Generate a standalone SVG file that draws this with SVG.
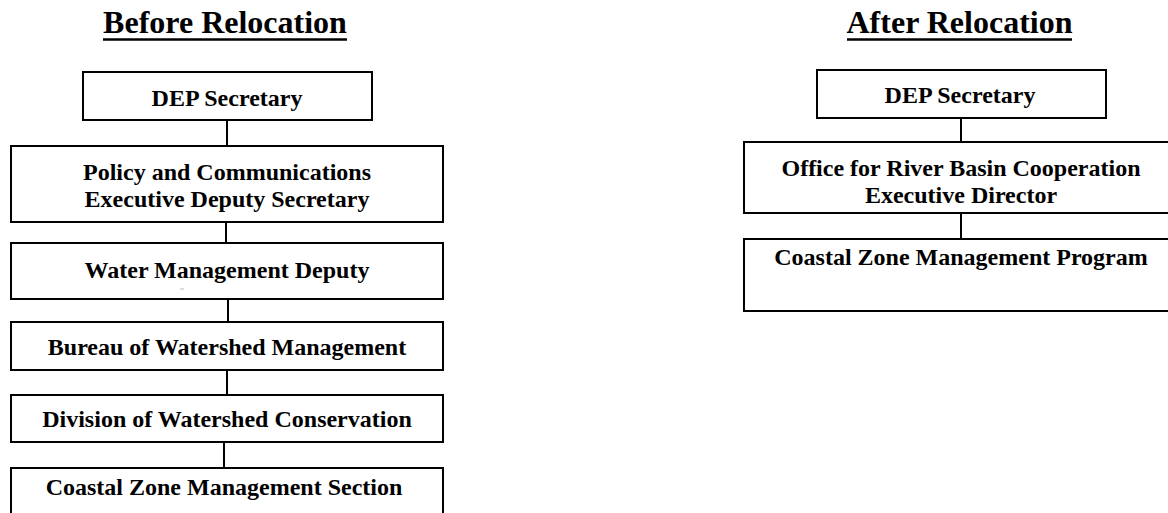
<svg xmlns="http://www.w3.org/2000/svg" width="1168" height="513" viewBox="0 0 1168 513">
<style>
.box{fill:#fff;stroke:#000;stroke-width:2}
.t{font-family:"Liberation Serif","Times New Roman",serif;font-weight:bold;font-size:24px;fill:#000;text-anchor:middle}
.h{font-family:"Liberation Serif","Times New Roman",serif;font-weight:bold;font-size:32px;fill:#000;text-anchor:middle}
.ul{stroke:#000;stroke-width:2.5}
.c{stroke:#000;stroke-width:2;fill:none}
</style>
<rect width="1168" height="513" fill="#fff"/>
<g id="headings">
<text class="h" x="225" y="33">Before Relocation</text>
<line class="ul" x1="103" y1="39.5" x2="347" y2="39.5"/>
<text class="h" x="959.5" y="33">After Relocation</text>
<line class="ul" x1="847" y1="39.5" x2="1072" y2="39.5"/>
</g>
<g id="connectors">
<line class="c" x1="227" y1="120" x2="227" y2="146"/>
<line class="c" x1="226" y1="222" x2="226" y2="243"/>
<line class="c" x1="228" y1="299" x2="228" y2="322"/>
<line class="c" x1="227" y1="370" x2="227" y2="395"/>
<line class="c" x1="224" y1="442" x2="224" y2="468"/>
<line class="c" x1="961" y1="118" x2="961" y2="142"/>
<line class="c" x1="961" y1="213" x2="961" y2="239"/>
</g>
<g id="b-dep">
<rect class="box" x="83" y="72" width="289" height="48"/>
<text class="t" x="227" y="106">DEP Secretary</text>
</g>
<g id="b-policy">
<rect class="box" x="11" y="146" width="432" height="76"/>
<text class="t" x="227" y="180">Policy and Communications</text>
<text class="t" x="227" y="207">Executive Deputy Secretary</text>
</g>
<g id="b-water">
<rect class="box" x="11" y="243" width="432" height="56"/>
<text class="t" x="227" y="278">Water Management Deputy</text>
<line x1="180" y1="289" x2="184" y2="289" stroke="#bbb" stroke-width="1"/>
</g>
<g id="b-bureau">
<rect class="box" x="11" y="322" width="432" height="48"/>
<text class="t" x="227" y="355">Bureau of Watershed Management</text>
</g>
<g id="b-division">
<rect class="box" x="11" y="395" width="432" height="47"/>
<text class="t" x="227" y="427">Division of Watershed Conservation</text>
</g>
<g id="b-czm-section">
<rect class="box" x="11" y="468" width="432" height="60"/>
<text class="t" x="224" y="495">Coastal Zone Management Section</text>
</g>
<g id="a-dep">
<rect class="box" x="817" y="70" width="289" height="48"/>
<text class="t" x="960" y="103">DEP Secretary</text>
</g>
<g id="a-office">
<rect class="box" x="744" y="142" width="440" height="71"/>
<text class="t" x="961" y="176">Office for River Basin Cooperation</text>
<text class="t" x="961" y="203">Executive Director</text>
</g>
<g id="a-czm-program">
<rect class="box" x="744" y="239" width="440" height="72"/>
<text class="t" x="961" y="265">Coastal Zone Management Program</text>
</g>
</svg>
